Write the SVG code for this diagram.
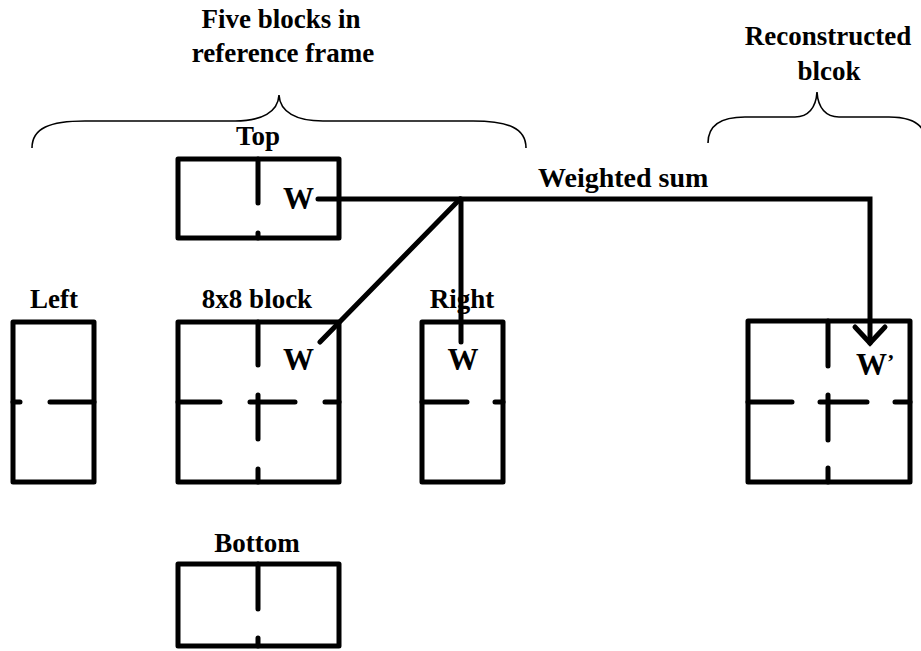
<svg xmlns="http://www.w3.org/2000/svg" width="921" height="651" viewBox="0 0 921 651">
<style>
.blk{fill:none;stroke:#000;stroke-width:5;stroke-linejoin:round;stroke-linecap:round}
.div{fill:none;stroke:#000;stroke-width:5;stroke-linecap:round}
.brace{fill:none;stroke:#000;stroke-width:1.6}
.con{fill:none;stroke:#000;stroke-width:5;stroke-linecap:round;stroke-linejoin:miter}
text{font-family:"Liberation Serif","Times New Roman",serif;font-weight:bold;fill:#000}
.lbl{font-size:27px;text-anchor:middle}
.w{font-size:31px}
</style>
<rect width="921" height="651" fill="#fff"/>
<g id="title-left">
<text class="lbl" x="281" y="28">Five blocks in</text>
<text class="lbl" x="283" y="62">reference frame</text>
<path class="brace" d="M32,148 C32,128 50,121 85,121 L235,121 C262,121 278,112 279,95 C280,112 296,121 323,121 L473,121 C508,121 526,128 526,148"/>
</g>
<g id="title-right">
<text class="lbl" x="828" y="45">Reconstructed</text>
<text class="lbl" x="829" y="80">blcok</text>
<path class="brace" d="M708,143 C708,125 722,117 745,117 L795,117 C808,117 816,108 817,92 C818,108 826,117 839,117 L889,117 C912,117 926,125 926,143"/>
</g>
<g id="top">
<text class="lbl" x="258" y="145">Top</text>
<rect class="blk" x="178" y="159" width="161" height="79"/>
<path class="div" d="M258,159 V203 M258,233 V238"/>
<text class="w" x="283" y="209">W</text>
</g>
<g id="left">
<text class="lbl" x="54" y="308">Left</text>
<rect class="blk" x="13" y="322" width="81" height="160"/>
<path class="div" d="M13,402 H20 M50,402 H94"/>
</g>
<g id="center">
<text class="lbl" x="257" y="308">8x8 block</text>
<rect class="blk" x="178" y="322" width="161" height="160"/>
<path class="div" d="M258,322 V365 M258,395 V439 M258,469 V482 M178,402 H220 M250,402 H295 M325,402 H339"/>
<text class="w" x="283" y="370">W</text>
</g>
<g id="right">
<text class="lbl" x="462" y="308">Right</text>
<rect class="blk" x="422" y="322" width="81" height="160"/>
<path class="div" d="M422,402 H467 M495,402 H503"/>
<text class="w" x="463" y="370" text-anchor="middle">W</text>
</g>
<g id="bottom">
<text class="lbl" x="257" y="552">Bottom</text>
<rect class="blk" x="178" y="564" width="161" height="82"/>
<path class="div" d="M258,564 V609 M258,638 V646"/>
</g>
<g id="reconstructed">
<rect class="blk" x="748" y="321" width="162" height="161"/>
<path class="div" d="M828,321 V366 M828,395 V440 M828,468 V482 M748,402 H792 M820,402 H867 M895,402 H910"/>
<text class="w" x="856" y="375">W<tspan font-size="22" dy="-6">’</tspan></text>
</g>
<g id="connectors">
<path class="con" d="M318,199 H870 V343"/>
<path class="con" d="M855,327 L870,343 L885,327"/>
<path class="con" d="M461,199 V342"/>
<path class="con" d="M460,199 L320,342"/>
<text x="538" y="187" style="font-size:28px">Weighted sum</text>
</g>
</svg>
